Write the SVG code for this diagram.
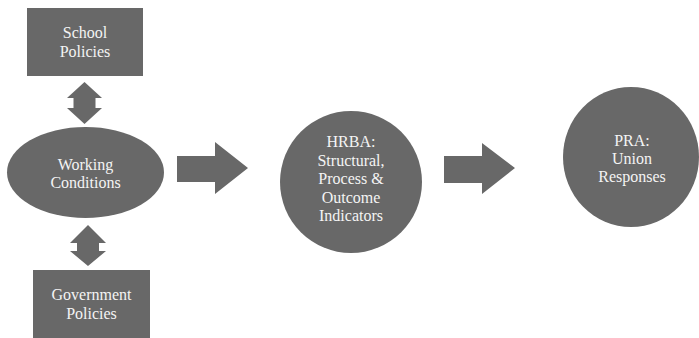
<svg xmlns="http://www.w3.org/2000/svg" width="699" height="338" viewBox="0 0 699 338">
<style>
.n{fill:#686868;}
.a{fill:#686868;}
.t{font-family:"Liberation Serif","Times New Roman",serif;font-size:16px;fill:#f4f4f4;text-anchor:middle;}
</style>
<rect width="699" height="338" fill="#ffffff"/>
<g id="connectors">
<path class="a" d="M84.5,82 L102,98 L95.5,98 L95.5,108 L102,108 L84.5,124 L67,108 L73.5,108 L73.5,98 L67,98 Z"/>
<path class="a" d="M88,225 L106,243 L99,243 L99,251 L106,251 L88,266 L70,251 L77,251 L77,243 L70,243 Z"/>
<path class="a" d="M177,156 L215,156 L215,142 L248,168 L215,194 L215,182 L177,182 Z"/>
<path class="a" d="M444,156 L482,156 L482,143 L515,168 L482,194 L482,183 L444,183 Z"/>
</g>
<g id="school">
<rect class="n" x="27" y="8" width="116" height="68"/>
<text class="t" x="85" y="38">School</text>
<text class="t" x="85" y="57">Policies</text>
</g>
<g id="working">
<ellipse class="n" cx="85.5" cy="172.5" rx="78.5" ry="45.5"/>
<text class="t" x="85.5" y="170">Working</text>
<text class="t" x="85.5" y="188">Conditions</text>
</g>
<g id="government">
<rect class="n" x="33" y="270" width="117" height="70"/>
<text class="t" x="91.5" y="300">Government</text>
<text class="t" x="91.5" y="319">Policies</text>
</g>
<g id="hrba">
<ellipse class="n" cx="351" cy="182" rx="71" ry="71"/>
<text class="t" x="351" y="147">HRBA:</text>
<text class="t" x="351" y="165.5">Structural,</text>
<text class="t" x="351" y="184">Process &amp;</text>
<text class="t" x="351" y="202.5">Outcome</text>
<text class="t" x="351" y="221">Indicators</text>
</g>
<g id="pra">
<ellipse class="n" cx="631" cy="157" rx="68" ry="70"/>
<text class="t" x="632" y="146">PRA:</text>
<text class="t" x="632" y="164">Union</text>
<text class="t" x="632" y="182">Responses</text>
</g>
</svg>
